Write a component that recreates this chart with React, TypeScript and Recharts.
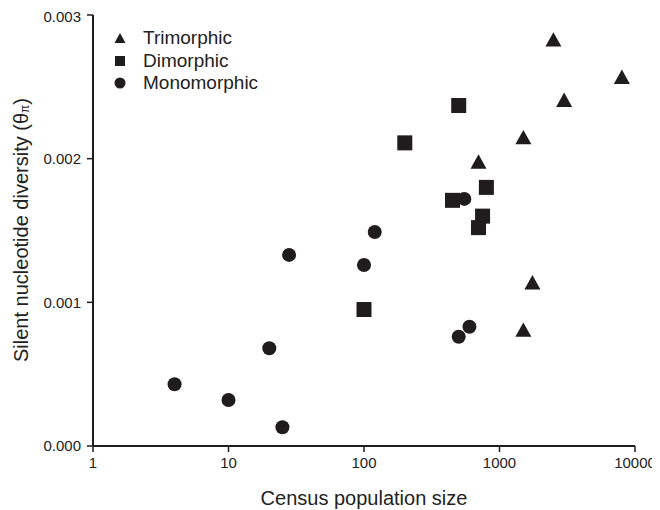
import {
  ScatterChart,
  Scatter,
  XAxis,
  YAxis,
  Legend,
  Label,
} from "recharts";

// census population size (x) and silent nucleotide diversity (y)
const triPop = [2500, 8000, 3000, 1500, 700, 1750, 1500];
const triTheta = [0.00283, 0.00257, 0.00241, 0.00215, 0.00198, 0.00114, 0.00081];

const diPop = [100, 200, 500, 450, 800, 750, 700];
const diTheta = [0.00095, 0.00211, 0.00237, 0.00171, 0.0018, 0.0016, 0.00152];

const monoPop = [4, 10, 25, 20, 28, 100, 120, 500, 600, 550];
const monoTheta = [0.00043, 0.00032, 0.00013, 0.00068, 0.00133, 0.00126, 0.00149, 0.00076, 0.00083, 0.00172];

const xTicks = [1, 10, 100, 1000, 10000];
const yTicks = [0, 0.001, 0.002, 0.003];

const groups = ["Trimorphic", "Dimorphic", "Monomorphic"];

const toPoints = (xs: number[], ys: number[]) => xs.map((x, i) => ({ x, y: ys[i] }));

const INK = "#1f1c1d";
const FONT = "'Liberation Sans', Arial, sans-serif";

function Triangle({ cx, cy, s = 16 }: any) {
  const h = s * 0.9;
  return (
    <polygon
      points={`${cx - s / 2},${cy + h / 2} ${cx + s / 2},${cy + h / 2} ${cx},${cy - h / 2}`}
      fill={INK}
    />
  );
}

function Square({ cx, cy, s = 15 }: any) {
  return <rect x={cx - s / 2} y={cy - s / 2} width={s} height={s} fill={INK} />;
}

function Dot({ cx, cy, s = 14 }: any) {
  return <circle cx={cx} cy={cy} r={s / 2} fill={INK} />;
}

const icons = [
  <svg width={14} height={14} key="t"><Triangle cx={7} cy={7} s={11} /></svg>,
  <svg width={14} height={14} key="s"><Square cx={7} cy={7} s={10} /></svg>,
  <svg width={14} height={14} key="c"><Dot cx={7} cy={7} s={11} /></svg>,
];

function renderLegend() {
  return (
    <div style={{ fontFamily: FONT, fontSize: 19, color: "#222" }}>
      {groups.map((g, i) => (
        <div key={g} style={{ display: "flex", alignItems: "center", height: 22.5 }}>
          {icons[i]}
          <span style={{ marginLeft: 16 }}>{g}</span>
        </div>
      ))}
    </div>
  );
}

export default function App() {
  return (
    <ScatterChart
      width={652}
      height={502}
      margin={{ top: 7, right: 25, bottom: 14, left: 25 }}
      style={{ fontFamily: FONT }}
    >
      <XAxis
        type="number"
        dataKey="x"
        scale="log"
        domain={[1, 10000]}
        ticks={xTicks}
        tickFormatter={(v) => String(v)}
        height={50}
        tickSize={6}
        tickMargin={5}
        axisLine={{ stroke: INK, strokeWidth: 2 }}
        tickLine={{ stroke: INK, strokeWidth: 1.5 }}
        tick={{ fill: "#222", fontSize: 15 }}
        allowDataOverflow
      >
        <Label
          content={() => (
            <text x={356} y={497} textAnchor="middle" fontSize={20} fill="#222">
              Census population size
            </text>
          )}
        />
      </XAxis>
      <YAxis
        type="number"
        dataKey="y"
        domain={[0, 0.003]}
        ticks={yTicks}
        tickFormatter={(v) => v.toFixed(3)}
        width={60}
        tickSize={6}
        tickMargin={6}
        axisLine={{ stroke: INK, strokeWidth: 2 }}
        tickLine={{ stroke: INK, strokeWidth: 1.5 }}
        tick={{ fill: "#222", fontSize: 15 }}
      >
        <Label
          content={() => (
            <text
              x={13}
              y={222}
              transform="rotate(-90, 13, 222)"
              textAnchor="middle"
              dominantBaseline="central"
              fontSize={20}
              fill="#222"
            >
              Silent nucleotide diversity (θ
              <tspan fontSize={12} dy={4}>π</tspan>
              <tspan dy={-4}>)</tspan>
            </text>
          )}
        />
      </YAxis>
      <Legend
        layout="horizontal"
        verticalAlign="middle"
        align="center"
        wrapperStyle={{ top: 19, left: 105, width: "auto", height: "auto" }}
        content={renderLegend}
      />
      <Scatter
        name="Monomorphic"
        data={toPoints(monoPop, monoTheta)}
        shape={<Dot />}
        isAnimationActive={false}
      />
      <Scatter
        name="Dimorphic"
        data={toPoints(diPop, diTheta)}
        shape={<Square />}
        isAnimationActive={false}
      />
      <Scatter
        name="Trimorphic"
        data={toPoints(triPop, triTheta)}
        shape={<Triangle />}
        isAnimationActive={false}
      />
    </ScatterChart>
  );
}
